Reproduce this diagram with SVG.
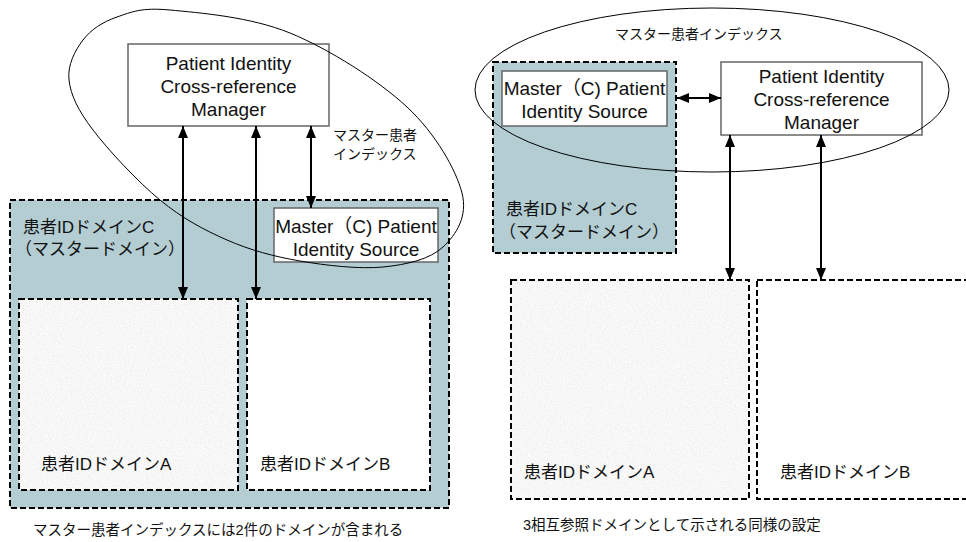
<svg xmlns="http://www.w3.org/2000/svg" width="966" height="542" viewBox="0 0 966 542">
<defs>
<style>
.t{font-family:"Liberation Sans",Arial,"Noto Sans CJK JP",sans-serif;fill:#111;}
.big{font-size:19px;text-anchor:middle;}
.jp{font-size:17px;}
.sm{font-size:14px;}
.cap{font-size:14.5px;}
.dom{stroke:#000;stroke-width:2;stroke-dasharray:6 3;}
.blue{fill:#b3cdd3;}
.grain{fill:#efefef;filter:url(#noise);}
.white{fill:#fff;}
.box{fill:#fff;stroke:#666;stroke-width:1.5;}
.conn line{stroke:#000;stroke-width:2;marker-start:url(#ah);marker-end:url(#ah);}
.ell{fill:none;stroke:#000;stroke-width:1;}
</style>
<marker id="ah" viewBox="0 0 12 10" refX="12" refY="5" markerWidth="12" markerHeight="10" markerUnits="userSpaceOnUse" orient="auto-start-reverse">
<path d="M0,0 L12,5 L0,10 Z" fill="#000"/>
</marker>
<filter id="noise" x="0" y="0" width="100%" height="100%">
<feTurbulence type="fractalNoise" baseFrequency="0.7" numOctaves="2" seed="4" result="n"/>
<feColorMatrix in="n" type="matrix" values="0.22 0 0 0 0.82  0.22 0 0 0 0.82  0.22 0 0 0 0.82  0 0 0 0 1"/>
</filter>
</defs>

<!-- LEFT DIAGRAM -->
<g id="left-domainC">
<rect class="dom blue" x="10" y="200" width="439" height="308"/>
<text class="t jp" x="23" y="233">患者IDドメインC</text>
<text class="t jp" x="15" y="255">（マスタードメイン）</text>
</g>
<g id="left-domainA">
<rect class="grain" x="19" y="299" width="219" height="191"/>
<rect class="dom" fill="none" x="19" y="299" width="219" height="191"/>
<text class="t jp" x="41" y="470">患者IDドメインA</text>
</g>
<g id="left-domainB">
<rect class="dom white" x="247" y="299" width="183" height="191"/>
<text class="t jp" x="260" y="470">患者IDドメインB</text>
</g>
<g id="left-pix">
<rect class="box" x="128" y="44" width="201" height="82"/>
<text class="t big" x="228.5" y="70">Patient Identity</text>
<text class="t big" x="228.5" y="93">Cross-reference</text>
<text class="t big" x="228.5" y="116">Manager</text>
</g>
<g id="left-master">
<rect class="box" x="274" y="208" width="164" height="54"/>
<text class="t big" x="356" y="233">Master（C) Patient</text>
<text class="t big" x="356" y="256">Identity Source</text>
</g>
<g id="left-mpi-label">
<text class="t sm" x="333" y="140">マスター患者</text>
<text class="t sm" x="333" y="159">インデックス</text>
</g>
<g id="left-mpi">
<path class="ell" d="M170,10 C198.8,12.7 250.5,16.8 290,33 C329.5,49.2 378.3,80.3 407,107 C435.7,133.7 456,169.7 462,193 C468,216.3 456.2,234.7 443,247 C429.8,259.3 406.8,264.7 383,267 C359.2,269.3 326,265.5 300,261 C274,256.5 250.3,250.2 227,240 C203.7,229.8 182.3,218.3 160,200 C137.7,181.7 108.2,150 93,130 C77.8,110 70.7,95 69,80 C67.3,65 75,50.5 83,40 C91,29.5 102.5,22 117,17 C131.5,12 141.2,7.3 170,10 Z"/>
</g>
<text class="t cap" x="33" y="535">マスター患者インデックスには2件のドメインが含まれる</text>

<!-- RIGHT DIAGRAM -->
<g id="right-domainC">
<rect class="dom blue" x="493" y="62" width="183" height="191"/>
<text class="t jp" x="506" y="215">患者IDドメインC</text>
<text class="t jp" x="499" y="238">（マスタードメイン）</text>
</g>
<g id="right-master">
<rect class="box" x="502" y="71" width="165" height="55"/>
<text class="t big" x="584.5" y="95">Master（C) Patient</text>
<text class="t big" x="584.5" y="118">Identity Source</text>
</g>
<g id="right-pix">
<rect class="box" x="721" y="62" width="201" height="73"/>
<text class="t big" x="821.5" y="83">Patient Identity</text>
<text class="t big" x="821.5" y="106">Cross-reference</text>
<text class="t big" x="821.5" y="129">Manager</text>
</g>
<g id="right-domainA">
<rect class="grain" x="511" y="280" width="238" height="219"/>
<rect class="dom" fill="none" x="511" y="280" width="238" height="219"/>
<text class="t jp" x="524" y="478">患者IDドメインA</text>
</g>
<g id="right-domainB">
<rect class="dom white" x="757" y="280" width="230" height="219"/>
<text class="t jp" x="780" y="478">患者IDドメインB</text>
</g>
<g id="right-mpi">
<ellipse class="ell" cx="712" cy="90" rx="237" ry="82"/>
<text class="t sm" x="615" y="39">マスター患者インデックス</text>
</g>
<text class="t cap" x="523" y="530">3相互参照ドメインとして示される同様の設定</text>

<g id="connectors" class="conn">
<line x1="183" y1="126" x2="183" y2="299"/>
<line x1="256" y1="126" x2="256" y2="299"/>
<line x1="311" y1="126" x2="311" y2="208"/>
<line x1="677" y1="98" x2="721" y2="98"/>
<line x1="730" y1="135" x2="730" y2="280"/>
<line x1="821" y1="135" x2="821" y2="280"/>
</g>
</svg>
